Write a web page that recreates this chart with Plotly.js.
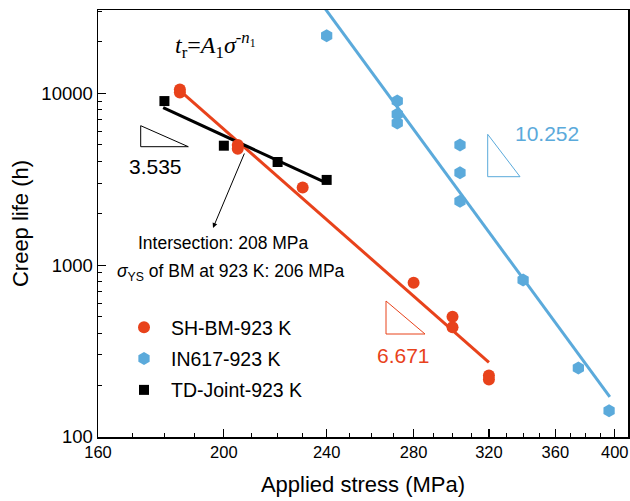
<!DOCTYPE html>
<html>
<head>
<meta charset="utf-8">
<script src="https://cdn.plot.ly/plotly-3.0.1.min.js"></script>
<style>html,body{margin:0;padding:0;background:#fff}#chart{width:630px;height:501px}</style>
</head>
<body>
<div id="chart"></div>
<script>
// ---- data ----
const shStress = [185, 185, 205, 205, 230, 280, 300, 300, 320, 320];
const shLife   = [10500, 10100, 5000, 4750, 2830, 790, 500, 435, 228, 216];
const inStress = [240, 272, 272, 272, 304, 304, 304, 340, 375, 396];
const inLife   = [21600, 9000, 7550, 6700, 5000, 3450, 2350, 820, 252, 142];
const tdStress = [180, 200, 220, 240];
const tdLife   = [9000, 4950, 3980, 3130];
// fitted lines (end points)
const shFitStress = [185, 320];
const shFitLife   = [10350, 272];
const inFitStress = [239, 396.5];
const inFitLife   = [31500, 171];
const tdFitStress = [179.6, 239.6];
const tdFitLife   = [8240, 3015];
const xTicks = [160, 200, 240, 280, 320, 360, 400];
const xMinor = [170,180,190,210,220,230,250,260,270,290,300,310,330,340,350,370,380,390];
const yTicks = [100, 1000, 10000];
const yMinor = [200,300,400,500,600,700,800,900,2000,3000,4000,5000,6000,7000,8000,9000,20000,30000];

const RED = '#E8421B', BLUE = '#5BAADB', BLACK = '#000000';

const traces = [
  {x: shFitStress, y: shFitLife, mode: 'lines', line: {color: RED, width: 3}, showlegend: false, hoverinfo: 'skip'},
  {x: inFitStress, y: inFitLife, mode: 'lines', line: {color: BLUE, width: 3}, showlegend: false, hoverinfo: 'skip'},
  {x: tdFitStress, y: tdFitLife, mode: 'lines', line: {color: BLACK, width: 3}, showlegend: false, hoverinfo: 'skip'},
  {x: shStress, y: shLife, mode: 'markers', name: 'SH-BM-923 K', legendgroup: 'a',
   marker: {symbol: 'circle', size: 12, color: RED}},
  {x: inStress, y: inLife, mode: 'markers', name: 'IN617-923 K', legendgroup: 'b',
   marker: {symbol: 'hexagon', size: 13, color: BLUE}},
  {x: tdStress, y: tdLife, mode: 'markers', name: 'TD-Joint-923 K', legendgroup: 'c',
   marker: {symbol: 'square', size: 10, color: BLACK}}
];

const FONT = 'Liberation Sans, Arial, sans-serif';
const L = 98, T = 10, W = 530, H = 427;
function px(x){return (x - L) / W;}
function py(y){return (T + H - y) / H;}
function tri(x1, y1, y2, x2){
  return `M${px(x1)},${py(y1)} L${px(x1)},${py(y2)} L${px(x2)},${py(y2)} Z`;
}
function label(x, y, text, size, color, family){
  return {xref: 'paper', yref: 'paper', x: px(x), y: py(y), text: text, showarrow: false,
          xanchor: 'center', yanchor: 'middle',
          font: {family: family || FONT, size: size, color: color || '#000'}};
}

const layout = {
  width: 630, height: 501,
  margin: {l: L, r: 630 - L - W, t: T, b: 501 - T - H},
  paper_bgcolor: '#fff', plot_bgcolor: '#fff',
  font: {family: FONT, size: 16, color: '#000'},
  showlegend: true,
  legend: {x: px(117), y: py(308), xanchor: 'left', yanchor: 'top', bgcolor: 'rgba(0,0,0,0)',
           font: {family: FONT, size: 19.5}, traceorder: 'grouped', tracegroupgap: 3, itemwidth: 44},
  xaxis: {type: 'log', range: [Math.log10(160), Math.log10(409.5)], tickmode: 'array', tickvals: xTicks,
          ticktext: xTicks.map(String), ticks: 'inside', ticklen: 8, tickwidth: 1.2, tickcolor: '#000',
          showline: true, linecolor: '#000', linewidth: 1.5, mirror: true, showgrid: false, zeroline: false,
          tickfont: {size: 16.5},
          minor: {tickmode: 'array', tickvals: xMinor, ticks: 'inside', ticklen: 4, tickwidth: 1, tickcolor: '#000', showgrid: false},
          title: {text: 'Applied stress (MPa)', font: {size: 22}, standoff: 16}},
  yaxis: {type: 'log', range: [2, 4.484], tickmode: 'array', tickvals: yTicks, ticktext: yTicks.map(String),
          ticks: 'inside', ticklen: 8, tickwidth: 1.2, tickcolor: '#000',
          showline: true, linecolor: '#000', linewidth: 1.5, mirror: true, showgrid: false, zeroline: false,
          tickfont: {size: 18.5},
          minor: {tickmode: 'array', tickvals: yMinor, ticks: 'inside', ticklen: 4, tickwidth: 1, tickcolor: '#000', showgrid: false},
          title: {text: 'Creep life (h)', font: {size: 22}, standoff: 6}},
  shapes: [
    {type: 'path', xref: 'paper', yref: 'paper', path: tri(140.7, 125.7, 146.7, 188.3), line: {color: BLACK, width: 1}},
    {type: 'path', xref: 'paper', yref: 'paper', path: tri(487.7, 134.3, 176.7, 520), line: {color: BLUE, width: 1}},
    {type: 'path', xref: 'paper', yref: 'paper', path: tri(386, 301, 334, 425), line: {color: RED, width: 1}}
  ],
  annotations: [
    {xref: 'paper', yref: 'paper', x: px(213), y: py(228), ax: 32, ay: -76, text: '', showarrow: true,
     arrowhead: 2, arrowsize: 1, arrowwidth: 1, arrowcolor: '#000'},
    label(223, 243, 'Intersection: 208 MPa', 17.5),
    label(231, 272, '<i>σ</i><sub>YS</sub> of BM at 923 K: 206 MPa', 17.5),
    label(155, 167, '3.535', 21, BLACK),
    label(547, 133, '10.252', 21, BLUE),
    label(403, 355, '6.671', 21, RED),
    label(215, 45, '<i>t</i><sub>r</sub>=<i>A</i><sub>1</sub><i>σ</i><sup>-<i>n</i><sub>1</sub></sup>', 24, '#000',
          'Liberation Serif, Times New Roman, serif')
  ]
};

Plotly.newPlot('chart', traces, layout, {displayModeBar: false, staticPlot: true});
</script>
</body>
</html>
